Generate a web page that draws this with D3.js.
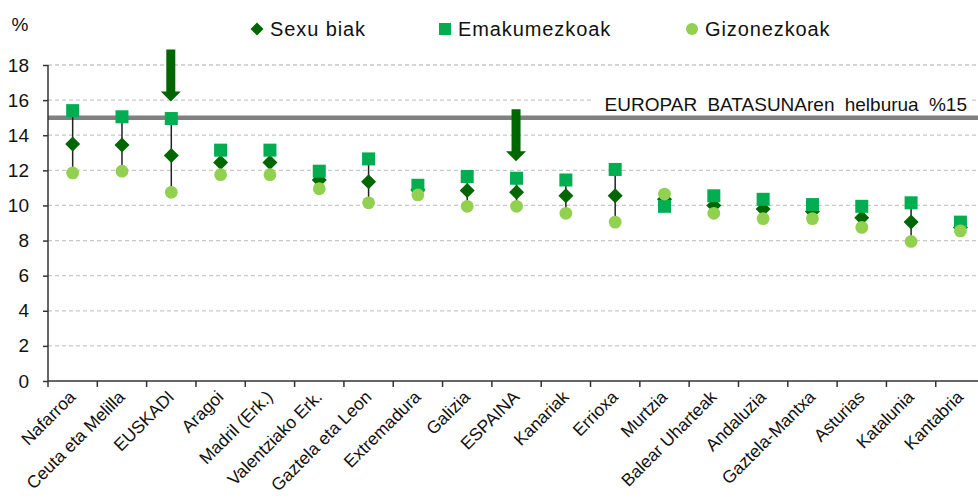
<!DOCTYPE html>
<meta charset="utf-8">
<title>Sexu biak / Emakumezkoak / Gizonezkoak</title>
<style>
  body { margin: 0; background: #fff; }
  svg { font-family: "Liberation Sans", Arial, sans-serif; }
</style>
<body>
<script src="https://d3js.org/d3.v7.min.js"></script>
<script>

var width = 978,
    height = 502;

// categories (left to right)
var regions = ["Nafarroa", "Ceuta eta Melilla", "EUSKADI", "Aragoi", "Madril (Erk.)",
  "Valentziako Erk.", "Gaztela eta Leon", "Extremadura", "Galizia", "ESPAINA",
  "Kanariak", "Errioxa", "Murtzia", "Balear Uharteak", "Andaluzia",
  "Gaztela-Mantxa", "Asturias", "Katalunia", "Kantabria"];

// values (%)
var sexuBiak     = [13.5, 13.45, 12.85, 12.45, 12.45, 11.45, 11.35, 10.9, 10.85, 10.75,
                    10.55, 10.55, 10.35, 10.0, 9.8, 9.65, 9.3, 9.05, 8.75];
var emakumezkoak = [15.4, 15.05, 14.95, 13.15, 13.15, 11.95, 12.65, 11.15, 11.65, 11.55,
                    11.45, 12.05, 9.95, 10.55, 10.35, 10.05, 9.95, 10.15, 9.05];
var gizonezkoak  = [11.85, 11.95, 10.75, 11.75, 11.75, 10.95, 10.15, 10.6, 9.95, 9.95,
                    9.55, 9.05, 10.65, 9.55, 9.25, 9.25, 8.75, 7.95, 8.55];

var yTicks = [0, 2, 4, 6, 8, 10, 12, 14, 16, 18];
var target = 15;
var targetLabel = "EUROPAR BATASUNAren helburua %15";
var arrowAt = ["EUSKADI", "ESPAINA"];

var margin = {left: 48, top: 65, bottom: 381};

var svg = d3.select("body").append("svg")
    .attr("width", width)
    .attr("height", height);

var x = d3.scaleBand()
    .domain(regions)
    .range([margin.left, margin.left + 49.32 * regions.length]);

var y = d3.scaleLinear()
    .domain([0, 18])
    .range([margin.bottom, margin.top]);

// gridlines
svg.append("g")
  .selectAll("line")
  .data(yTicks.filter(function(d){ return d > 0; }))
  .enter().append("line")
    .attr("x1", margin.left)
    .attr("x2", width)
    .attr("y1", function(d){ return y(d); })
    .attr("y2", function(d){ return y(d); })
    .style("stroke", "#c8c8c8")
    .style("stroke-width", 1.3)
    .style("stroke-dasharray", "4,3");

// target line + label
svg.append("line")
    .attr("x1", margin.left)
    .attr("x2", width)
    .attr("y1", y(target))
    .attr("y2", y(target))
    .style("stroke", "#808080")
    .style("stroke-width", 4.5);

svg.append("rect")
    .attr("x", 594).attr("y", y(target) - 25)
    .attr("width", 376).attr("height", 19)
    .style("fill", "#fff");

svg.append("text")
    .attr("x", 967)
    .attr("y", y(target) - 7)
    .attr("text-anchor", "end")
    .style("font-size", "19px")
    .style("word-spacing", "5px")
    .style("fill", "#111")
    .text(targetLabel);

// y axis
var yAxis = d3.axisLeft(y).tickValues(yTicks).tickSize(5).tickPadding(14);
var gy = svg.append("g")
    .attr("transform", "translate(" + margin.left + ",0)")
    .call(yAxis);
gy.select(".domain").attr("d", "M0," + y(0) + "V" + y(18)).style("stroke", "#333").style("stroke-width", 1.5);
gy.selectAll(".tick line").style("stroke", "#333").style("stroke-width", 1.5);
gy.selectAll(".tick text").style("font-size", "19px").style("fill", "#111")
    .style("font-family", "Liberation Sans, Arial, sans-serif");

svg.append("text")
    .attr("x", 20).attr("y", 31)
    .attr("text-anchor", "middle")
    .style("font-size", "19px")
    .style("fill", "#111")
    .text("%");

// x axis: ticks at band boundaries
svg.append("line")
    .attr("x1", margin.left).attr("x2", width)
    .attr("y1", y(0)).attr("y2", y(0))
    .style("stroke", "#333").style("stroke-width", 1.5);

svg.append("g")
  .selectAll("line")
  .data(regions)
  .enter().append("line")
    .attr("x1", function(d){ return x(d); })
    .attr("x2", function(d){ return x(d); })
    .attr("y1", y(0))
    .attr("y2", y(0) + 6)
    .style("stroke", "#333").style("stroke-width", 1.5);

svg.append("g")
  .selectAll("text")
  .data(regions)
  .enter().append("text")
    .attr("transform", function(d){
      return "translate(" + (x(d) + x.bandwidth() / 2 + 4) + "," + (y(0) + 17) + ") rotate(-45)";
    })
    .attr("text-anchor", "end")
    .style("font-size", "17.5px")
    .style("fill", "#111")
    .text(function(d){ return d; });

// high-low lines
var rows = regions.map(function(r, i){
  return {name: r, s: sexuBiak[i], e: emakumezkoak[i], g: gizonezkoak[i]};
});

svg.append("g")
  .selectAll("line")
  .data(rows)
  .enter().append("line")
    .attr("x1", function(d){ return x(d.name) + x.bandwidth() / 2; })
    .attr("x2", function(d){ return x(d.name) + x.bandwidth() / 2; })
    .attr("y1", function(d){ return y(Math.max(d.s, d.e, d.g)); })
    .attr("y2", function(d){ return y(Math.min(d.s, d.e, d.g)); })
    .style("stroke", "#222")
    .style("stroke-width", 1.5);

var cx = function(d){ return x(d.name) + x.bandwidth() / 2; };

// Sexu biak - diamonds
svg.append("g")
  .selectAll("path")
  .data(rows)
  .enter().append("path")
    .attr("d", "M0,-7.5L7.5,0L0,7.5L-7.5,0Z")
    .attr("transform", function(d){ return "translate(" + cx(d) + "," + y(d.s) + ")"; })
    .style("fill", "#006600");

// Emakumezkoak - squares
svg.append("g")
  .selectAll("rect")
  .data(rows)
  .enter().append("rect")
    .attr("x", function(d){ return cx(d) - 6.5; })
    .attr("y", function(d){ return y(d.e) - 6.5; })
    .attr("width", 13)
    .attr("height", 13)
    .style("fill", "#00ad50");

// Gizonezkoak - circles
svg.append("g")
  .selectAll("circle")
  .data(rows)
  .enter().append("circle")
    .attr("cx", cx)
    .attr("cy", function(d){ return y(d.g); })
    .attr("r", 6.4)
    .style("fill", "#92d050");

// arrows
svg.append("g")
  .selectAll("path")
  .data(arrowAt)
  .enter().append("path")
    .attr("transform", function(d){
      var i = regions.indexOf(d);
      var top = Math.max(emakumezkoak[i], sexuBiak[i], gizonezkoak[i]);
      return "translate(" + (x(d) + x.bandwidth() / 2 - 0.5) + "," + (y(top) - 17) + ")";
    })
    .attr("d", "M-4.5,-52V-10H-10L0,0L10,-10H4.5V-52Z")
    .style("fill", "#006600");

// legend
var legend = [
  {label: "Sexu biak", shape: "diamond", color: "#006600", x: 257},
  {label: "Emakumezkoak", shape: "square", color: "#00ad50", x: 445},
  {label: "Gizonezkoak", shape: "circle", color: "#92d050", x: 692}
];

var lg = svg.append("g").selectAll("g")
  .data(legend)
  .enter().append("g")
    .attr("transform", function(d){ return "translate(" + d.x + ",29)"; });

lg.each(function(d){
  var g = d3.select(this);
  if (d.shape == "diamond") g.append("path").attr("d", "M0,-6.5L6.5,0L0,6.5L-6.5,0Z").style("fill", d.color);
  else if (d.shape == "square") g.append("rect").attr("x", -6).attr("y", -6).attr("width", 12).attr("height", 12).style("fill", d.color);
  else g.append("circle").attr("r", 6).style("fill", d.color);
});

lg.append("text")
    .attr("x", 13)
    .attr("y", 7)
    .style("font-size", "20px")
    .style("letter-spacing", "0.9px")
    .style("fill", "#111")
    .text(function(d){ return d.label; });

</script>
</body>
